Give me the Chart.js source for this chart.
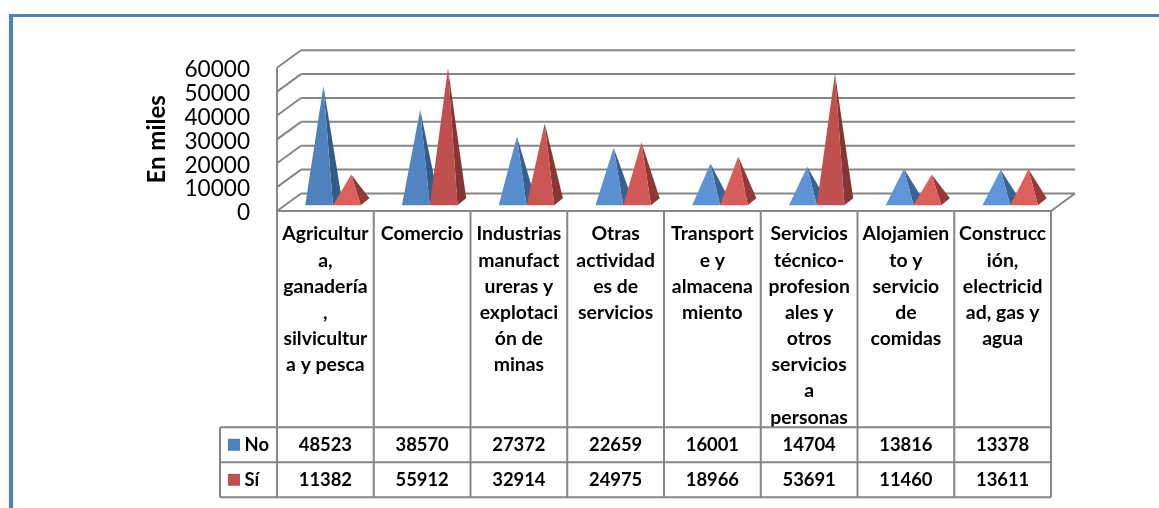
<!DOCTYPE html>
<html>
<head>
<meta charset="UTF-8">
<title>En miles</title>
<script src="https://cdn.jsdelivr.net/npm/chart.js"></script>
<style>
	* {padding: 0; margin: 0;}
	body {background: #fff; width: 1159px; height: 508px; overflow: hidden;}
	#frame {position: absolute; left: 9px; top: 14px; width: 1150px; height: 494px; border-top: 3px solid #4f81bd; border-left: 4px solid #4f81bd; box-sizing: border-box;}
	#wrap {position: absolute; left: 0; top: 0; width: 1159px; height: 508px;}
</style>
</head>
<body>
<div id="frame"></div>
<div id="wrap"><canvas id="myChart" width="1159" height="508"></canvas></div>
<script>
	const categories = [
		["Agricultur", "a,", "ganadería", ",", "silvicultur", "a y pesca"],
		"Comercio",
		["Industrias", "manufact", "ureras y", "explotaci", "ón de", "minas"],
		["Otras", "actividad", "es de", "servicios"],
		["Transport", "e y", "almacena", "miento"],
		["Servicios", "técnico-", "profesion", "ales y", "otros", "servicios", "a", "personas"],
		["Alojamien", "to y", "servicio", "de", "comidas"],
		["Construcc", "ión,", "electricid", "ad, gas y", "agua"]
	];
	const seriesNo = [48523, 38570, 27372, 22659, 16001, 14704, 13816, 13378];
	const seriesSi = [11382, 55912, 32914, 24975, 18966, 53691, 11460, 13611];
	const seriesNames = ["No", "Sí"];
	const yTitle = "En miles";

	const GRID = "#868686";
	const TEXT_FONT = "Lato";
	// tall / short face colours, the 3D lighting of the original gets lighter on flat pyramids
	const faces = [
		{key: "#4f81bd", tall: [79, 129, 189], short: [96, 150, 217], sideTall: [52, 91, 135], sideShort: [58, 100, 150]},
		{key: "#c0504d", tall: [192, 80, 77], short: [222, 96, 92], sideTall: [132, 54, 52], sideShort: [148, 58, 56]}
	];
	const DEPTH_X = 24, DEPTH_Y = 17.5;      // wall depth
	const FLOOR_X = 7.6, FLOOR_Y = 5.7;      // front of the bars from the front of the floor
	const BAR_X = 8.7, BAR_Y = 7;            // depth of a bar

	function mix(a, b, t) {
		return "rgb(" + a.map((c, i) => Math.round(c + (b[i] - c) * t)).join(",") + ")";
	}

	function line(ctx, x1, y1, x2, y2) {
		ctx.beginPath();
		ctx.moveTo(x1, y1);
		ctx.lineTo(x2, y2);
		ctx.stroke();
	}

	function tri(ctx, x1, y1, x2, y2, x3, y3, color) {
		ctx.fillStyle = color;
		ctx.beginPath();
		ctx.moveTo(x1, y1);
		ctx.lineTo(x2, y2);
		ctx.lineTo(x3, y3);
		ctx.closePath();
		ctx.fill();
	}

	// paredes en perspectiva
	const wallPlugin = {
		id: "wall",
		beforeDatasetsDraw(chart) {
			const ctx = chart.ctx, y = chart.scales.y, a = chart.chartArea;
			ctx.save();
			ctx.strokeStyle = GRID;
			ctx.lineWidth = 2;
			y.ticks.forEach((t, i) => {
				const p = y.getPixelForTick(i);
				line(ctx, a.left, p, a.left + DEPTH_X, p - DEPTH_Y);
				line(ctx, a.left + DEPTH_X, p - DEPTH_Y, a.right + DEPTH_X, p - DEPTH_Y);
			});
			line(ctx, a.left, a.top, a.left, a.bottom);
			line(ctx, a.right, a.bottom, a.right + DEPTH_X, a.bottom - DEPTH_Y);
			ctx.restore();
		}
	};

	// piramides: toman x, y, base y ancho de los elementos de barra
	const pyramidPlugin = {
		id: "pyramid",
		afterDatasetsDraw(chart) {
			const ctx = chart.ctx;
			const count = categories.length;
			for (let i = 0; i < count; i++) {
				chart.data.datasets.forEach((ds, d) => {
					const bar = chart.getDatasetMeta(d).data[i];
					const f = faces[d];
					const t = Math.min(1, Math.max(0, (ds.data[i] - 13000) / 30000));
					const x0 = bar.x - bar.width / 2 + FLOOR_X;
					const x1 = bar.x + bar.width / 2 + FLOOR_X;
					const yb = bar.base - FLOOR_Y;
					const ax = bar.x + FLOOR_X + BAR_X / 2;
					const ay = bar.y - FLOOR_Y - BAR_Y / 2;
					tri(ctx, x1, yb, x1 + BAR_X, yb - BAR_Y, ax, ay, mix(f.sideShort, f.sideTall, t));
					tri(ctx, x0, yb, x1, yb, ax, ay, mix(f.short, f.tall, t));
				});
			}
		}
	};

	// tabla de datos debajo del eje
	const tablePlugin = {
		id: "dataTable",
		afterDraw(chart) {
			const ctx = chart.ctx, a = chart.chartArea, x = chart.scales.x;
			const rows = [427.3, 462.3, 497.3];
			const tableLeft = 220;
			ctx.save();
			ctx.strokeStyle = GRID;
			ctx.lineWidth = 2;
			rows.forEach(r => line(ctx, tableLeft, r, a.right, r));
			line(ctx, a.left, a.bottom, a.right, a.bottom);
			line(ctx, tableLeft, rows[0], tableLeft, rows[2]);
			const step = (a.right - a.left) / categories.length;
			for (let i = 0; i <= categories.length; i++) {
				line(ctx, a.left + step * i, a.bottom, a.left + step * i, rows[2]);
			}
			ctx.textBaseline = "middle";
			ctx.fillStyle = "#000";
			ctx.font = "bold 18.4px " + TEXT_FONT;
			chart.data.datasets.forEach((ds, d) => {
				const cy = (rows[d] + rows[d + 1]) / 2;
				ctx.fillStyle = faces[d].key;
				ctx.fillRect(228, cy - 6, 12, 12);
				ctx.fillStyle = "#000";
				ctx.textAlign = "left";
				ctx.fillText(seriesNames[d], 244.5, cy);
				ctx.textAlign = "center";
				ds.data.forEach((v, i) => ctx.fillText(String(v), x.getPixelForTick(i), cy));
			});
			ctx.restore();
		}
	};

	new Chart(document.getElementById("myChart"), {
		type: "bar",
		data: {
			labels: categories,
			datasets: [
				{label: seriesNames[0], data: seriesNo, backgroundColor: "rgba(0,0,0,0)"},
				{label: seriesNames[1], data: seriesSi, backgroundColor: "rgba(0,0,0,0)"}
			]
		},
		plugins: [wallPlugin, pyramidPlugin, tablePlugin],
		options: {
			responsive: false,
			animation: false,
			categoryPercentage: 0.574,
			barPercentage: 1,
			layout: {padding: {top: 67.7, right: 108, left: 0, bottom: 0}},
			plugins: {legend: {display: false}, tooltip: {enabled: false}},
			scales: {
				x: {
					grid: {display: false},
					border: {display: false},
					afterFit(scale) { scale.height = 297; },
					ticks: {
						maxRotation: 0,
						autoSkip: false,
						padding: 2,
						color: "#000",
						font: {family: TEXT_FONT, size: 19.4, weight: "bold", lineHeight: 1.35}
					}
				},
				y: {
					min: 0,
					max: 60000,
					grid: {display: false},
					border: {display: false},
					afterFit(scale) { scale.width = 277; },
					title: {
						display: true,
						text: yTitle,
						color: "#000",
						padding: {top: 143, bottom: 0},
						font: {family: TEXT_FONT, size: 24, weight: "bold"}
					},
					ticks: {
						autoSkip: false,
						stepSize: 10000,
						padding: 19,
						labelOffset: 2,
						color: "#000",
						font: {family: TEXT_FONT, size: 22.6, lineHeight: 1},
						callback: v => String(v)
					}
				}
			}
		}
	});
</script>
</body>
</html>
